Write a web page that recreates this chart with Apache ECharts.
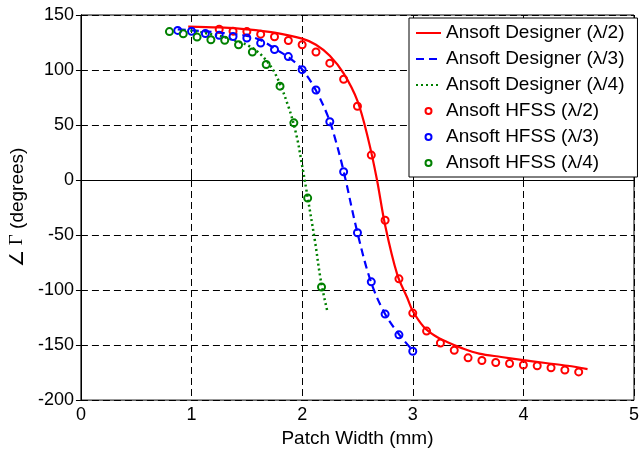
<!DOCTYPE html>
<html>
<head>
<meta charset="utf-8">
<script src="https://cdn.jsdelivr.net/npm/echarts@6/dist/echarts.min.js"></script>
<style>
html,body{margin:0;padding:0;background:#fff;}
#chart{width:642px;height:453px;}
</style>
</head>
<body>
<div id="chart"></div>
<script>
// ---- Data ----
const xTicks = [0, 1, 2, 3, 4, 5];
const yTicks = [-200, -150, -100, -50, 0, 50, 100, 150];

const seriesNames = [
  'Ansoft Designer (λ/2)', 'Ansoft Designer (λ/3)', 'Ansoft Designer (λ/4)',
  'Ansoft HFSS (λ/2)', 'Ansoft HFSS (λ/3)', 'Ansoft HFSS (λ/4)'
];

// Ansoft Designer (lines)
const dHalfX = [0.97, 1.25, 1.5, 1.75, 2.0, 2.125, 2.25, 2.375, 2.5, 2.6, 2.675, 2.75, 2.86, 2.95, 3.0, 3.1, 3.2, 3.31, 3.45, 3.6, 3.8, 4.0, 4.2, 4.4, 4.58];
const dHalfY = [139.5, 138.7, 137, 134, 128.5, 123, 113, 97, 72, 36, 1, -41, -86, -107, -119, -133.5, -141.5, -147.2, -153, -157.7, -160.8, -163.7, -166.3, -168.8, -171.8];

const dThirdX = [0.875, 1.0, 1.25, 1.5, 1.637, 1.756, 1.876, 1.995, 2.115, 2.234, 2.3, 2.375, 2.5, 2.62, 2.74, 2.86, 3.0];
const dThirdY = [137, 136, 134, 131, 126.6, 119.1, 111.6, 101.2, 83.2, 57.7, 37, 8, -48, -92, -120, -138.2, -155];

const dQuarterX = [0.99, 1.25, 1.4, 1.517, 1.637, 1.756, 1.876, 1.95, 2.0, 2.04, 2.115, 2.17, 2.23];
const dQuarterY = [136, 131, 126.5, 122, 113, 96.7, 66.7, 40, 13, -10, -55, -92, -120.3];

// Ansoft HFSS (markers)
const hHalfX = [1.25, 1.375, 1.5, 1.625, 1.75, 1.875, 2.0, 2.125, 2.25, 2.375, 2.5, 2.625, 2.75, 2.875, 3.0, 3.125, 3.25, 3.375, 3.5, 3.625, 3.75, 3.875, 4.0, 4.125, 4.25, 4.375, 4.5];
const hHalfY = [137, 135.3, 134.9, 132.6, 130.2, 126.8, 123, 116.4, 106.2, 91.6, 67.1, 22.7, -36.5, -89.8, -120.9, -137.3, -148.1, -154.7, -161.6, -164, -165.8, -166.7, -168.1, -168.8, -170.6, -172.6, -174.4];

const hThirdX = [0.875, 1.0, 1.125, 1.25, 1.375, 1.5, 1.625, 1.75, 1.875, 2.0, 2.125, 2.25, 2.375, 2.5, 2.625, 2.75, 2.875, 3.0];
const hThirdY = [136, 135.2, 133.2, 131.5, 130.5, 129, 124.5, 118.6, 112.2, 100.3, 81.8, 53, 7.5, -47.9, -92.5, -121.8, -140.7, -155.6];

const hQuarterX = [0.8, 0.925, 1.05, 1.175, 1.3, 1.425, 1.55, 1.675, 1.8, 1.925, 2.05, 2.175];
const hQuarterY = [134.9, 132.9, 129.9, 127.5, 127, 123, 116.4, 105, 85.3, 52, -16.4, -97.2];

// ---- Build ----
const zip = (xs, ys) => xs.map((x, i) => [x, ys[i]]);
const RED = '#ff0000', BLUE = '#0000ff', GREEN = '#008000';
const FONT = 'Liberation Sans, Arial, sans-serif';
const CLEAR = 'rgba(0,0,0,0)';

function lineSeries(name, xs, ys, color, type, width) {
  return {
    name, type: 'line', data: zip(xs, ys), showSymbol: false, symbol: 'none',
    smooth: 0.35, z: 3,
    lineStyle: { color, width, type }, itemStyle: { color }
  };
}
function markSeries(name, xs, ys, color) {
  return {
    name, type: 'scatter', data: zip(xs, ys), symbol: 'circle', symbolSize: 7, z: 4,
    itemStyle: { color: CLEAR, borderColor: color, borderWidth: 2, opacity: 1 }
  };
}

const chart = echarts.init(document.getElementById('chart'), null, { renderer: 'canvas' });
const gridDash = [7, 4];
chart.setOption({
  animation: false,
  backgroundColor: '#fff',
  textStyle: { fontFamily: FONT },
  grid: { left: 80, right: 3, top: 15, bottom: 48, show: true, borderColor: '#000', borderWidth: 1, backgroundColor: 'transparent' },
  xAxis: [{
    type: 'value', min: xTicks[0], max: xTicks[xTicks.length - 1], interval: 1, position: 'bottom',
    name: 'Patch Width (mm)', nameLocation: 'middle', nameGap: 22,
    nameTextStyle: { fontSize: 19, color: '#000', fontFamily: FONT },
    axisLine: { lineStyle: { color: '#000', width: 1 } },
    axisTick: { inside: true, length: 5, lineStyle: { color: '#000' } },
    axisLabel: { fontSize: 18, color: '#000', margin: 6, fontFamily: FONT },
    splitLine: { show: true, lineStyle: { color: '#000', type: gridDash, width: 1 } }
  }, {
    type: 'value', min: xTicks[0], max: xTicks[xTicks.length - 1], interval: 1, position: 'top',
    axisLine: { show: true, lineStyle: { color: '#000' } },
    axisTick: { inside: true, length: 5, lineStyle: { color: '#000' } },
    axisLabel: { show: false }, splitLine: { show: false }
  }],
  yAxis: [{
    type: 'value', min: yTicks[0], max: yTicks[yTicks.length - 1], interval: 50, position: 'left',
    name: '{a|∠ }{g|Γ}{a| (degrees)}', nameLocation: 'middle', nameGap: 40, nameRotate: 90,
    nameTextStyle: {
      color: '#000',
      rich: {
        a: { fontSize: 19, fontFamily: FONT, color: '#000' },
        g: { fontSize: 19, fontFamily: 'Liberation Serif, Times New Roman, serif', color: '#000' }
      }
    },
    axisLine: { lineStyle: { color: '#000', width: 1 } },
    axisTick: { inside: true, length: 5, lineStyle: { color: '#000' } },
    axisLabel: { fontSize: 18, color: '#000', margin: 7, fontFamily: FONT },
    splitLine: { show: true, lineStyle: { color: '#000', type: gridDash, width: 1 } }
  }, {
    type: 'value', min: yTicks[0], max: yTicks[yTicks.length - 1], interval: 50, position: 'right',
    axisLine: { show: true, lineStyle: { color: '#000' } },
    axisTick: { inside: true, length: 5, lineStyle: { color: '#000' } },
    axisLabel: { show: false }, splitLine: { show: false }
  }],
  legend: {
    orient: 'vertical', left: 409, top: 18, padding: [5, 13, 4, 6],
    backgroundColor: '#fff', borderColor: '#000', borderWidth: 1,
    itemWidth: 25, itemHeight: 6, itemGap: 6,
    textStyle: { fontSize: 19, color: '#000', fontFamily: FONT, lineHeight: 20 },
    data: [
      { name: seriesNames[0], itemStyle: { color: CLEAR, borderWidth: 0 } },
      { name: seriesNames[1], itemStyle: { color: CLEAR, borderWidth: 0 } },
      { name: seriesNames[2], itemStyle: { color: CLEAR, borderWidth: 0 } },
      { name: seriesNames[3], icon: 'circle', itemStyle: { color: '#fff', borderColor: RED, borderWidth: 2 } },
      { name: seriesNames[4], icon: 'circle', itemStyle: { color: '#fff', borderColor: BLUE, borderWidth: 2 } },
      { name: seriesNames[5], icon: 'circle', itemStyle: { color: '#fff', borderColor: GREEN, borderWidth: 2 } }
    ]
  },
  series: [
    lineSeries(seriesNames[0], dHalfX, dHalfY, RED, 'solid', 2.2),
    lineSeries(seriesNames[1], dThirdX, dThirdY, BLUE, [8, 5], 2.2),
    lineSeries(seriesNames[2], dQuarterX, dQuarterY, GREEN, [2, 3], 2.5),
    markSeries(seriesNames[3], hHalfX, hHalfY, RED),
    markSeries(seriesNames[4], hThirdX, hThirdY, BLUE),
    markSeries(seriesNames[5], hQuarterX, hQuarterY, GREEN)
  ]
});
</script>
</body>
</html>
